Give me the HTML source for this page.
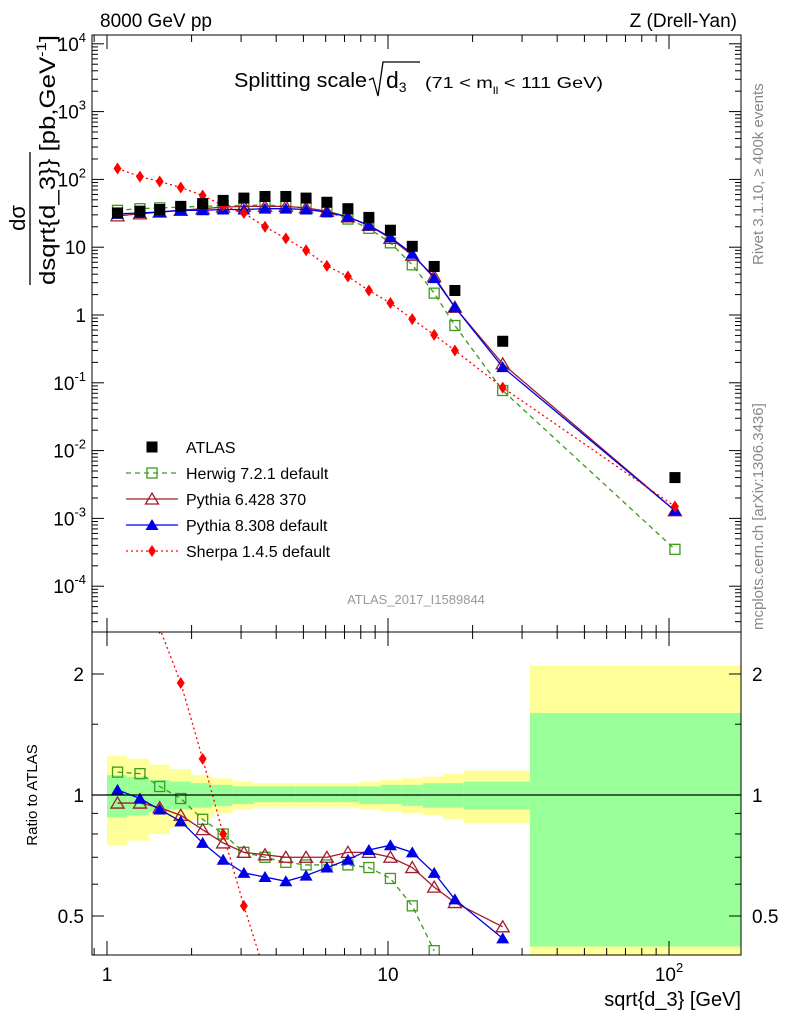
<!DOCTYPE html>
<html><head><meta charset="utf-8"><style>
body{margin:0;background:#fff;overflow:hidden}
svg{display:block;font-family:"Liberation Sans",sans-serif}
</style></head><body>
<svg id="c" width="786" height="1024" viewBox="0 0 786 1024">
<defs>
<clipPath id="cm"><rect x="92" y="35" width="649" height="597"/></clipPath>
<clipPath id="cr"><rect x="92" y="632" width="649" height="323"/></clipPath>
</defs>
<g id="bands" clip-path="url(#cr)"></g>
<g id="lines"></g>
<rect x="92" y="35" width="649" height="597" fill="none" stroke="#000" stroke-width="1"/>
<rect x="92" y="632" width="649" height="323" fill="none" stroke="#000" stroke-width="1"/>
<g id="ticks" stroke="#000" stroke-width="1"></g>
<text x="100" y="27" font-size="19">8000 GeV pp</text>
<text x="737" y="27" font-size="19" text-anchor="end">Z (Drell-Yan)</text>
<g>
<text x="234" y="87" font-size="20" textLength="133" lengthAdjust="spacingAndGlyphs">Splitting scale</text>
<path d="M369,80 L373,78 L378,96 L383,62 L420,62" fill="none" stroke="#000" stroke-width="1.3"/>
<text x="386" y="88" font-size="23">d<tspan font-size="14" dy="4">3</tspan></text>
<text x="425" y="88" font-size="16" textLength="178" lengthAdjust="spacingAndGlyphs">(71 &lt; m<tspan font-size="10" dy="6">ll</tspan><tspan dy="-6"> &lt; 111 GeV)</tspan></text>
</g>
<text transform="translate(763,265) rotate(-90)" font-size="15" fill="#888">Rivet 3.1.10, ≥ 400k events</text>
<text transform="translate(763,630) rotate(-90)" font-size="15" fill="#888">mcplots.cern.ch [arXiv:1306.3436]</text>
<text x="416" y="604" font-size="13" fill="#999" text-anchor="middle">ATLAS_2017_I1589844</text>
<g>
<text transform="translate(25,218) rotate(-90)" font-size="22" text-anchor="middle">dσ</text>
<line x1="30" y1="285" x2="30" y2="152" stroke="#000" stroke-width="1.3"/>
<text transform="translate(55,285) rotate(-90)" font-size="22" textLength="250" lengthAdjust="spacingAndGlyphs">dsqrt{d_3}} [pb,GeV<tspan font-size="14" dy="-9">-1</tspan><tspan dy="9">]</tspan></text>
</g>
<text transform="translate(37,795) rotate(-90)" font-size="15" text-anchor="middle">Ratio to ATLAS</text>
<text x="741" y="1006" font-size="20" text-anchor="end">sqrt{d_3} [GeV]</text>
<g id="legend"></g>
</svg>
<script>
const xVals=[1.09,1.31,1.54,1.83,2.19,2.59,3.07,3.65,4.33,5.11,6.06,7.2,8.55,10.2,12.2,14.6,17.3,25.6,105];
const binEdges=[1,1.18,1.41,1.67,1.99,2.36,2.8,3.33,3.96,4.7,5.6,6.7,7.9,9.4,11.2,13.3,15.7,18.6,32,180];
const atlas=[32,34,36,40,44,49,53,56,56,53,46,37,27.5,17.8,10.3,5.2,2.3,0.41,0.004];
const herwig=[35,37,38,39,40,41,41,42,40,38,33,26,19,11.6,5.5,2.1,0.70,0.077,3.5e-4];
const pythia6=[29,31,33,35,37,39,40,40,40,38,34,28,21,13.5,7.6,3.7,1.3,0.19,1.3e-3];
const pythia8=[31,32,33,35,35,36,36,37,37,36,33,28,21,14,8,3.5,1.3,0.17,1.3e-3];
const sherpa=[145,110,93,76,58,41,32,20,13.5,9,5.3,3.7,2.3,1.5,0.87,0.51,0.30,0.085,1.5e-3];
const herwigR=[1.14,1.13,1.05,0.98,0.87,0.80,0.72,0.70,0.68,0.67,0.67,0.67,0.66,0.62,0.53,0.41,null,null,null];
const pythia6R=[0.955,0.955,0.93,0.89,0.82,0.76,0.72,0.71,0.70,0.70,0.70,0.72,0.72,0.70,0.66,0.59,0.54,0.47,null];
const pythia8R=[1.03,0.98,0.92,0.86,0.76,0.69,0.64,0.625,0.61,0.63,0.66,0.69,0.73,0.75,0.72,0.64,0.55,0.44,null];
const sherpaR=[4.5,3.2,2.6,1.90,1.23,0.80,0.53,0.36,0.24,null,null,null,null,null,null,null,null,null,null];
const yellowUp=[1.25,1.23,1.19,1.16,1.12,1.10,1.08,1.07,1.07,1.07,1.07,1.07,1.08,1.09,1.10,1.11,1.13,1.15,2.1];
const yellowDn=[0.75,0.77,0.80,0.83,0.87,0.90,0.92,0.93,0.93,0.93,0.93,0.93,0.92,0.91,0.90,0.89,0.87,0.85,0.37];
const greenUp=[1.12,1.11,1.09,1.08,1.07,1.06,1.05,1.05,1.05,1.05,1.05,1.05,1.05,1.06,1.06,1.07,1.07,1.08,1.6];
const greenDn=[0.88,0.89,0.91,0.92,0.93,0.94,0.95,0.96,0.96,0.96,0.96,0.96,0.95,0.95,0.94,0.93,0.93,0.92,0.42];
const mainTicks=["10^4","10^3","10^2","10","1","10^-1","10^-2","10^-3","10^-4"];
const ratioTicks=["2","1","0.5"];
const xTicks=["1","10","10^2"];

const NS="http://www.w3.org/2000/svg";
const svg=document.getElementById('c');
const X=v=>107+281*Math.log10(v);
const Y=v=>315-67.8*Math.log10(v);
const R=v=>795-402*Math.log10(v);
function mk(tag,at,parent){const e=document.createElementNS(NS,tag);for(const k in at)e.setAttribute(k,at[k]);(parent||svg).appendChild(e);return e;}
const bands=document.getElementById('bands'),lines=document.getElementById('lines'),ticks=document.getElementById('ticks'),legend=document.getElementById('legend');
for(let i=0;i<xVals.length;i++){
 const x0=X(binEdges[i]),x1=X(binEdges[i+1]);
 const y=mk('rect',{x:x0,y:R(yellowUp[i]),width:x1-x0,height:R(yellowDn[i])-R(yellowUp[i]),fill:'#ffff99'},bands);
 
 
 const g=mk('rect',{x:x0,y:R(greenUp[i]),width:x1-x0,height:R(greenDn[i])-R(greenUp[i]),fill:'#99ff99'},bands);
 
 
}
const one=mk('line',{x1:92,x2:741,y1:R(1),y2:R(1),stroke:'#000','stroke-width':1.2});


function lbl(t,x,y,anchor,size){const e=mk('text',{x:x,y:y,'font-size':size||19,'text-anchor':anchor});
 const m=t.match(/^10\^(.+)$/);
 if(m){e.textContent='10';const s=document.createElementNS(NS,'tspan');s.setAttribute('dy','-9');s.setAttribute('font-size','13');s.textContent=m[1];e.appendChild(s);} else e.textContent=t;
 
 
 return e;}
mainTicks.forEach((t,i)=>{const p=4-i;const y=Y(Math.pow(10,p));
 mk('line',{x1:92,x2:104,y1:y,y2:y},ticks);mk('line',{x1:729,x2:741,y1:y,y2:y},ticks);
 lbl(t,86,y+7,'end');
 for(let k=2;k<10;k++){const yy=Y(k*Math.pow(10,p-1));if(yy>35&&yy<632){mk('line',{x1:92,x2:98,y1:yy,y2:yy},ticks);mk('line',{x1:735,x2:741,y1:yy,y2:yy},ticks);}}
});
for(let k=2;k<10;k++){const yy=Y(k*1e4);if(yy>35){mk('line',{x1:92,x2:98,y1:yy,y2:yy},ticks);mk('line',{x1:735,x2:741,y1:yy,y2:yy},ticks);}}
ratioTicks.forEach(t=>{const y=R(parseFloat(t));mk('line',{x1:92,x2:104,y1:y,y2:y},ticks);mk('line',{x1:729,x2:741,y1:y,y2:y},ticks);lbl(t,84,y+7,'end');lbl(t,752,y+7,'start');});
[0.6,0.7,0.8,0.9,1.5].forEach(v=>{const y=R(v);mk('line',{x1:92,x2:98,y1:y,y2:y},ticks);mk('line',{x1:735,x2:741,y1:y,y2:y},ticks);});
xTicks.forEach((t,i)=>{const x=X(Math.pow(10,i));
 mk('line',{x1:x,x2:x,y1:955,y2:941},ticks);mk('line',{x1:x,x2:x,y1:632,y2:646},ticks);mk('line',{x1:x,x2:x,y1:632,y2:618},ticks);mk('line',{x1:x,x2:x,y1:35,y2:49},ticks);
 lbl(t,x,981,'middle');
 for(let k=2;k<10;k++){const xx=X(k*Math.pow(10,i));if(xx<741){mk('line',{x1:xx,x2:xx,y1:955,y2:948},ticks);mk('line',{x1:xx,x2:xx,y1:632,y2:639},ticks);mk('line',{x1:xx,x2:xx,y1:632,y2:625},ticks);mk('line',{x1:xx,x2:xx,y1:35,y2:42},ticks);}}
});
mk('line',{x1:X(0.9),x2:X(0.9),y1:955,y2:948},ticks);mk('line',{x1:X(0.9),x2:X(0.9),y1:35,y2:42},ticks);
function marker(type,x,y,col,par){let e;
 if(type==='sq')e=mk('rect',{x:x-5.5,y:y-5.5,width:11,height:11,fill:'#000'},par);
 else if(type==='osq')e=mk('rect',{x:x-5,y:y-5,width:10,height:10,fill:'none',stroke:col,'stroke-width':1.3},par);
 else if(type==='otri')e=mk('path',{d:`M${x},${y-6}L${x+6.5},${y+5}L${x-6.5},${y+5}Z`,fill:'none',stroke:col,'stroke-width':1.3},par);
 else if(type==='tri')e=mk('path',{d:`M${x},${y-6}L${x+6.5},${y+5}L${x-6.5},${y+5}Z`,fill:col},par);
 else e=mk('path',{d:`M${x},${y-6}L${x+4},${y}L${x},${y+6}L${x-4},${y}Z`,fill:col},par);
 return e;}
const series=[
 {n:'herwig',v:herwig,r:herwigR,c:'#3d9a1a',m:'osq',d:'5,4',label:'Herwig 7.2.1 default'},
 {n:'pythia6',v:pythia6,r:pythia6R,c:'#a01c2c',m:'otri',d:'',label:'Pythia 6.428 370'},
 {n:'pythia8',v:pythia8,r:pythia8R,c:'#0000e6',m:'tri',d:'',label:'Pythia 8.308 default'},
 {n:'sherpa',v:sherpa,r:sherpaR,c:'#ff0000',m:'dia',d:'2,3',label:'Sherpa 1.4.5 default'}];
series.forEach(s=>{
 const gm=mk('g',{'clip-path':'url(#cm)'},lines);
 
 
 const pl=mk('polyline',{points:xVals.map((x,i)=>X(x)+','+Y(s.v[i])).join(' '),fill:'none',stroke:s.c,'stroke-width':1.3,'stroke-dasharray':s.d},gm);
 
 
 xVals.forEach((x,i)=>{const e=marker(s.m,X(x),Y(s.v[i]),s.c,gm);
  
  });
 const gr=mk('g',{'clip-path':'url(#cr)'},lines);
 
 
 const pts=[];xVals.forEach((x,i)=>{if(s.r[i]!=null)pts.push(X(x)+','+R(s.r[i]));});
 const rl=mk('polyline',{points:pts.join(' '),fill:'none',stroke:s.c,'stroke-width':1.3,'stroke-dasharray':s.d},gr);
 
 
 xVals.forEach((x,i)=>{if(s.r[i]==null)return;const y=R(s.r[i]);if(y<628||y>959)return;const e=marker(s.m,X(x),y,s.c,gr);
  
  });
});
const ga=mk('g',{},lines);


xVals.forEach((x,i)=>{const e=marker('sq',X(x),Y(atlas[i]),'#000',ga);
 
 });
const ly=[447,473,499,525,551];
const le0=marker('sq',152,ly[0],'#000',legend);


const lt0=mk('text',{x:186,y:ly[0]+6,'font-size':16},legend);lt0.textContent='ATLAS';


series.forEach((s,i)=>{const y=ly[i+1];
 const l=mk('line',{x1:126,x2:178,y1:y,y2:y,stroke:s.c,'stroke-width':1.3,'stroke-dasharray':s.d},legend);
 
 
 const m=marker(s.m,152,y,s.c,legend);
 
 
 const t=mk('text',{x:186,y:y+6,'font-size':16},legend);t.textContent=s.label;
 
 
});
</script>
</body></html>
